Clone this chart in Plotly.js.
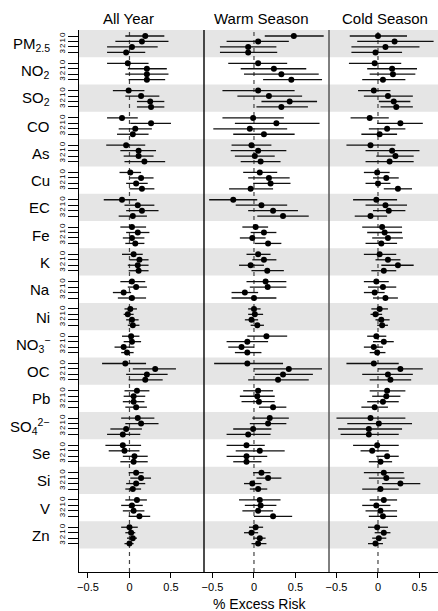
<!DOCTYPE html>
<html><head><meta charset="utf-8">
<script src="https://cdn.plot.ly/plotly-3.0.1.min.js"></script>
<style>html,body{margin:0;padding:0;background:#fff}#chart{width:438px;height:611px}</style>
</head><body><div id="chart"></div>
<script>
const pollutants = ['PM<sub>2.5</sub>','NO<sub>2</sub>','SO<sub>2</sub>','CO','As','Cu','EC','Fe','K','Na','Ni','NO<sub>3</sub><sup>−</sup>','OC','Pb','SO<sub>4</sub><sup>2−</sup>','Se','Si','V','Zn'];
const lags = ['0','1','2','3'];
const panels = ['All Year','Warm Season','Cold Season'];
const xTickVals = [-0.5, 0, 0.5];
const xTickText = ['−0.5','0','0.5'];

const allEst = [0.19,0.15,0.03,-0.04, -0.02,0.21,0.21,0.21, -0.01,0.14,0.25,0.26, -0.09,0.26,0.07,0.04, -0.04,0.11,0.11,0.18, 0.01,0.14,0.08,0.15, -0.09,0.10,0.15,0.04, 0.03,0.10,0.03,0.07, 0.05,0.12,0.10,0.11, 0.03,0.08,-0.07,0.03, 0.01,-0.02,0.03,0.04, 0.02,0.03,-0.07,-0.03, -0.05,0.31,0.21,0.19, 0.09,0.05,0.05,0.08, 0.10,0.14,-0.04,-0.08, -0.08,-0.06,0.06,0.05, 0.08,0.14,0.08,0.04, 0.09,0.03,0.05,0.12, 0.00,0.02,0.04,0.00];
const allLo = [-0.05,-0.17,-0.27,-0.27, -0.27,-0.02,-0.05,-0.01, -0.20,-0.05,0.09,0.09, -0.27,0.01,-0.13,-0.15, -0.28,-0.11,-0.07,-0.06, -0.12,0.00,-0.04,0.00, -0.31,-0.06,-0.04,-0.13, -0.11,-0.04,-0.08,-0.05, -0.09,0.00,-0.02,-0.01, -0.11,-0.02,-0.20,-0.14, -0.06,-0.07,-0.04,-0.02, -0.09,-0.07,-0.18,-0.10, -0.33,0.04,-0.04,-0.01, -0.06,-0.07,-0.08,-0.05, -0.10,-0.05,-0.23,-0.27, -0.29,-0.25,-0.08,-0.11, -0.01,0.01,-0.04,-0.05, -0.05,-0.10,-0.08,-0.01, -0.10,-0.05,-0.03,-0.06];
const allHi = [0.42,0.47,0.34,0.19, 0.23,0.45,0.47,0.43, 0.18,0.36,0.42,0.42, 0.10,0.50,0.27,0.23, 0.19,0.32,0.29,0.43, 0.14,0.29,0.22,0.30, 0.09,0.30,0.35,0.21, 0.20,0.24,0.18,0.18, 0.16,0.23,0.23,0.23, 0.19,0.21,0.02,0.20, 0.09,0.05,0.11,0.12, 0.12,0.14,0.06,0.05, 0.20,0.56,0.46,0.40, 0.24,0.19,0.18,0.21, 0.30,0.35,0.15,0.13, 0.14,0.12,0.22,0.22, 0.17,0.26,0.19,0.14, 0.21,0.16,0.18,0.25, 0.10,0.07,0.09,0.05];

const warmEst = [0.48,0.05,-0.07,-0.07, 0.05,0.24,0.33,0.45, 0.05,0.18,0.43,0.33, -0.01,0.27,-0.05,0.12, -0.03,0.05,0.01,0.08, 0.07,0.18,0.20,-0.04, -0.25,0.09,0.23,0.35, 0.02,0.12,-0.02,0.17, 0.05,0.12,-0.04,0.16, 0.14,0.165,-0.11,0.00, 0.00,0.01,-0.03,0.04, 0.15,-0.08,-0.15,-0.08, -0.08,0.42,0.35,0.29, 0.05,0.04,0.06,0.23, 0.19,0.17,-0.01,-0.07, -0.09,0.07,-0.09,-0.09, 0.09,0.17,-0.02,0.05, 0.07,0.08,0.05,0.23, 0.02,-0.03,0.07,0.05];
const warmLo = [0.13,-0.33,-0.41,-0.41, -0.31,-0.16,-0.12,0.11, -0.38,-0.20,0.09,0.03, -0.38,-0.23,-0.49,-0.25, -0.27,-0.28,-0.23,-0.16, -0.13,-0.07,-0.01,-0.30, -0.54,-0.22,-0.07,0.04, -0.14,-0.04,-0.17,0.01, -0.09,-0.02,-0.18,-0.03, -0.09,-0.05,-0.27,-0.27, -0.07,-0.07,-0.11,-0.04, -0.08,-0.33,-0.31,-0.23, -0.48,0.00,0.01,-0.07, -0.13,-0.17,-0.15,0.06, -0.02,-0.05,-0.25,-0.33, -0.33,-0.22,-0.33,-0.25, -0.01,0.03,-0.12,-0.05, -0.18,-0.11,-0.14,0.00, -0.06,-0.12,-0.01,-0.03];
const warmHi = [0.84,0.42,0.27,0.28, 0.40,0.63,0.78,0.82, 0.49,0.58,0.76,0.65, 0.36,0.79,0.40,0.49, 0.21,0.39,0.25,0.32, 0.28,0.43,0.44,0.23, 0.04,0.40,0.53,0.66, 0.17,0.27,0.14,0.33, 0.20,0.27,0.12,0.36, 0.39,0.39,0.05,0.27, 0.08,0.11,0.05,0.12, 0.40,0.17,0.00,0.09, 0.35,0.82,0.71,0.66, 0.23,0.25,0.25,0.39, 0.42,0.39,0.21,0.20, 0.13,0.37,0.16,0.09, 0.20,0.33,0.09,0.16, 0.32,0.27,0.23,0.46, 0.11,0.05,0.14,0.15];

const coldEst = [0.00,0.20,0.09,-0.03, -0.04,0.17,0.18,0.06, -0.05,0.12,0.19,0.22, -0.10,0.27,0.11,0.02, -0.09,0.17,0.21,0.14, -0.01,0.10,0.00,0.24, -0.02,0.09,0.13,-0.09, 0.05,0.08,0.12,0.04, 0.02,0.12,0.24,0.07, -0.02,0.06,-0.04,0.09, 0.02,-0.03,0.04,0.05, -0.02,0.07,-0.05,-0.01, -0.05,0.27,0.12,0.15, 0.11,0.10,0.06,-0.04, -0.09,0.01,-0.11,-0.11, -0.01,-0.07,0.11,0.03, 0.07,0.10,0.27,0.03, 0.07,-0.02,0.03,0.06, -0.01,0.07,0.01,-0.03];
const coldLo = [-0.34,-0.25,-0.32,-0.32, -0.35,-0.13,-0.10,-0.19, -0.24,-0.17,0.01,0.03, -0.33,-0.01,-0.11,-0.20, -0.38,-0.15,-0.02,-0.15, -0.17,-0.06,-0.15,0.07, -0.30,-0.15,-0.06,-0.28, -0.19,-0.13,-0.07,-0.15, -0.17,-0.03,0.04,-0.08, -0.17,-0.12,-0.17,-0.06, -0.08,-0.09,-0.03,-0.01, -0.13,-0.06,-0.17,-0.10, -0.38,0.00,-0.19,-0.10, -0.10,-0.07,-0.13,-0.20, -0.50,-0.37,-0.48,-0.45, -0.30,-0.21,-0.02,-0.11, -0.17,-0.11,0.05,-0.19, -0.10,-0.19,-0.15,-0.11, -0.12,-0.04,-0.07,-0.12];
const coldHi = [0.35,0.67,0.50,0.29, 0.28,0.47,0.45,0.33, 0.15,0.42,0.39,0.42, 0.13,0.54,0.33,0.23, 0.21,0.50,0.43,0.43, 0.14,0.25,0.15,0.41, 0.23,0.35,0.33,0.11, 0.29,0.29,0.30,0.23, 0.22,0.27,0.43,0.22, 0.13,0.22,0.08,0.24, 0.12,0.05,0.14,0.12, 0.10,0.19,0.06,0.09, 0.25,0.54,0.42,0.40, 0.33,0.27,0.25,0.12, 0.33,0.41,0.29,0.25, 0.25,0.13,0.25,0.17, 0.31,0.32,0.51,0.25, 0.23,0.15,0.23,0.23, 0.12,0.15,0.10,0.06];

// layout geometry
const GROUP = 5, OFFSET = 1.1, YMAX = 99.3;
const yPos = [], yText = [];
pollutants.forEach((p, g) => lags.forEach((l, k) => { yPos.push(GROUP * g + OFFSET + k); yText.push(l); }));

const FONT = '"Liberation Sans", Arial, Helvetica, sans-serif';
const series = [[allEst, allLo, allHi], [warmEst, warmLo, warmHi], [coldEst, coldLo, coldHi]];
const axisIds = ['x', 'x2', 'x3'];
const traces = series.map((s, i) => ({
  type: 'scatter', mode: 'markers',
  x: s[0], y: yPos, xaxis: axisIds[i], yaxis: 'y',
  marker: {color: '#000', size: 6},
  error_x: {type: 'data', symmetric: false,
    array: s[2].map((h, j) => h - s[0][j]),
    arrayminus: s[0].map((e, j) => e - s[1][j]),
    color: '#111', thickness: 1.3, width: 0},
  hoverinfo: 'skip', showlegend: false
}));

const shapes = [];
pollutants.forEach((p, g) => {
  if (g % 2 === 0) shapes.push({type: 'rect', xref: 'paper', yref: 'y', x0: 0, x1: 1,
    y0: GROUP * g, y1: GROUP * g + GROUP, fillcolor: '#e5e5e5', line: {width: 0}, layer: 'below'});
});
axisIds.forEach(a => shapes.push({type: 'line', xref: a, yref: 'paper', x0: 0, x1: 0, y0: 0, y1: 1,
  line: {color: '#444', width: 1.2, dash: '4px,4px'}, layer: 'below'}));
const doms = [[0, 0.3482], [0.3482, 0.6964], [0.6964, 1]];
shapes.push({type: 'line', xref: 'paper', yref: 'paper', x0: doms[1][0], x1: doms[1][0], y0: 0, y1: 1, line: {color: '#111', width: 1.5}});
shapes.push({type: 'line', xref: 'paper', yref: 'paper', x0: doms[2][0], x1: doms[2][0], y0: 0, y1: 1, line: {color: '#555', width: 1.5}});

const annotations = [];
pollutants.forEach((p, g) => annotations.push({xref: 'paper', yref: 'y', x: -0.075, y: GROUP * g + 2.6,
  text: p, showarrow: false, xanchor: 'right', yanchor: 'middle', font: {family: FONT, size: 15, color: '#000'}}));
const titleX = [0.139, 0.507, 0.852];
panels.forEach((t, i) => annotations.push({xref: 'paper', yref: 'paper', x: titleX[i], y: 1.022, text: t,
  showarrow: false, xanchor: 'center', yanchor: 'middle', font: {family: FONT, size: 15, color: '#000'}}));
annotations.push({xref: 'paper', yref: 'paper', x: 0.504, y: -0.059, text: '% Excess Risk', showarrow: false,
  xanchor: 'center', yanchor: 'middle', font: {family: FONT, size: 14, color: '#000'}});

const ranges = [[-0.608, 0.898], [-0.602, 0.904], [-0.59, 0.723]];
const layout = {
  width: 438, height: 611, margin: {l: 79, r: 0, t: 30, b: 39},
  paper_bgcolor: '#fff', plot_bgcolor: 'rgba(0,0,0,0)',
  font: {family: FONT, color: '#000'},
  showlegend: false, shapes: shapes, annotations: annotations,
  yaxis: {range: [YMAX, 0], anchor: 'x', tickmode: 'array', tickvals: yPos, ticktext: yText,
    tickangle: -90, tickfont: {size: 8, family: FONT}, ticks: 'outside', ticklen: 10, tickcolor: '#000', tickwidth: 1,
    showline: true, linecolor: '#000', linewidth: 1, showgrid: false, zeroline: false}
};
axisIds.forEach((a, i) => {
  const key = i === 0 ? 'xaxis' : 'xaxis' + (i + 1);
  layout[key] = {domain: doms[i], range: ranges[i], anchor: 'y', tickmode: 'array', tickvals: xTickVals, ticktext: xTickText,
    tickfont: {size: 11, family: FONT}, ticks: 'outside', ticklen: 5, tickcolor: '#000', tickwidth: 1,
    showline: true, linecolor: '#000', linewidth: 1, showgrid: false, zeroline: false};
});
Plotly.newPlot('chart', traces, layout, {displayModeBar: false, staticPlot: true});
</script></body></html>
